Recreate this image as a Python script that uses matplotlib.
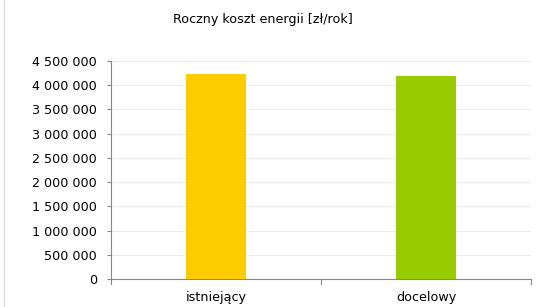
import matplotlib.pyplot as plt
from matplotlib.lines import Line2D

categories = ["istniejący", "docelowy"]
values = [4230000, 4190000]
colors = ["#ffcc00", "#99cc00"]
yticks = [0, 500000, 1000000, 1500000, 2000000, 2500000, 3000000, 3500000, 4000000, 4500000]

plt.rcParams['font.family'] = ['DejaVu Sans']

fig = plt.figure(figsize=(5.46, 3.07), dpi=100)
ax = fig.add_axes([111/546, 1-279/307, 420/546, 218/307])

x = list(range(len(categories)))
ax.bar(x, values, width=0.286, color=colors, zorder=3)

ax.set_xlim(-0.5, 1.5)
ax.set_ylim(0, 4500000)
ax.set_yticks(yticks)
ax.set_yticklabels(["{:,}".format(v).replace(",", " ") for v in yticks], fontsize=9.2, color="#000000")
ax.set_xticks(x)
ax.set_xticklabels(categories, fontsize=9.2)
ax.tick_params(axis='x', length=0, pad=9)
ax.tick_params(axis='y', length=3, color="#868686", width=0.8, pad=7)
# boundary ticks on the category axis
for b in [-0.5, 0.5, 1.5]:
    ax.plot([b, b], [0, -0.022], transform=ax.get_xaxis_transform(), color="#868686",
            lw=0.8, clip_on=False, zorder=4)

ax.grid(axis='y', color="#ebebeb", lw=0.8, zorder=0)
for side in ["top", "right"]:
    ax.spines[side].set_visible(False)
ax.spines["left"].set_color("#868686")
ax.spines["bottom"].set_color("#868686")
ax.spines["left"].set_linewidth(0.8)
ax.spines["bottom"].set_linewidth(0.8)

fig.text(263/546, 1-19/307, "Roczny koszt energii [zł/rok]", ha="center", va="center", fontsize=9.2)

# light frame line on the left edge of the chart area
fig.lines.append(Line2D([4/546, 4/546], [0, 1], transform=fig.transFigure,
                        color="#d9d9d9", lw=0.8))

fig.savefig("out.png", dpi=100)
